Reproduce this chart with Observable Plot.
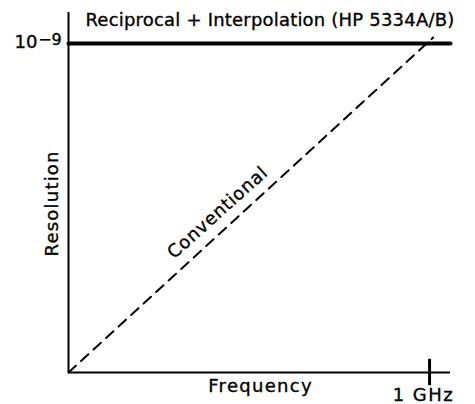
<!DOCTYPE html>
<html><head><meta charset="utf-8">
<script src="https://cdn.jsdelivr.net/npm/d3@7"></script>
<script src="https://cdn.jsdelivr.net/npm/@observablehq/plot@0.6"></script>
<style>body{margin:0;background:#fff}</style>
</head><body><div id="chart"></div>
<script>
// Frequency normalized so 1 = 1 GHz; resolution normalized so 1 = 10^-9 level
const freq = [0, 1.01];
const conventional = [0, 1.018];
const reciprocal = [1, 1];
const xTicks = [1];
const xTickLabels = ["1 GHz"];
const yTickBase = ["10"];
const yTickExp = ["−9"];
const seriesLabels = ["Reciprocal + Interpolation (HP 5334A/B)", "Conventional"];
const axisTitles = ["Frequency", "Resolution"];

const font = "'DejaVu Sans', Arial, sans-serif";
const convData = freq.map((f, i) => ({x: f, y: conventional[i]}));
const recData = [{x: 0, y: reciprocal[0]}, {x: 1.058, y: reciprocal[1]}];
const txt = {fill: "#000", stroke: "#000", strokeWidth: 0.35, fontSize: 18};

const chart = Plot.plot({
  width: 475, height: 404,
  marginLeft: 68, marginRight: 25, marginTop: 12, marginBottom: 32,
  x: {domain: [0, 1.058], axis: null},
  y: {domain: [0, 1.094], axis: null},
  style: {fontFamily: font, background: "#fff"},
  marks: [
    Plot.ruleX([0], {y1: 0, y2: 1.094, stroke: "#000", strokeWidth: 2}),
    Plot.ruleY([0], {x1: 0, x2: 1.058, stroke: "#000", strokeWidth: 2}),
    Plot.line(recData, {x: "x", y: "y", stroke: "#000", strokeWidth: 4}),
    Plot.line(convData, {x: "x", y: "y", stroke: "#000", strokeWidth: 2, strokeDasharray: "10,7"}),
    Plot.ruleX(xTicks, {y1: -0.04, y2: 0.04, stroke: "#000", strokeWidth: 3}),
    Plot.text(xTickLabels, {x: [0.983], y: -0.070, text: d => d, ...txt, className: "ls-ghz"}),
    Plot.text(yTickBase, {x: -0.086, y: 1.003, text: d => d, ...txt, textAnchor: "end"}),
    Plot.text(yTickExp, {x: -0.084, y: 1.012, text: d => d, ...txt, fontSize: 16, textAnchor: "start"}),
    Plot.text([seriesLabels[0]], {x: 0.047, y: 1.070, text: d => d, ...txt, textAnchor: "start", className: "ls-title"}),
    Plot.text([seriesLabels[1]], {x: 0.413, y: 0.486, text: d => d, ...txt, rotate: -42, className: "ls-conv"}),
    Plot.text([axisTitles[0]], {x: 0.532, y: -0.0426, text: d => d, ...txt, className: "ls-freq"}),
    Plot.text([axisTitles[1]], {x: -0.044, y: 0.514, text: d => d, ...txt, rotate: -90, className: "ls-res"})
  ]
});
const spacing = {"ls-ghz": 1.4, "ls-title": 0.2, "ls-conv": 0.75, "ls-freq": 1.3, "ls-res": 1.2};
for (const [cls, ls] of Object.entries(spacing)) {
  d3.select(chart).selectAll("." + cls).attr("letter-spacing", ls);
}
document.getElementById("chart").append(chart);
</script></body></html>
